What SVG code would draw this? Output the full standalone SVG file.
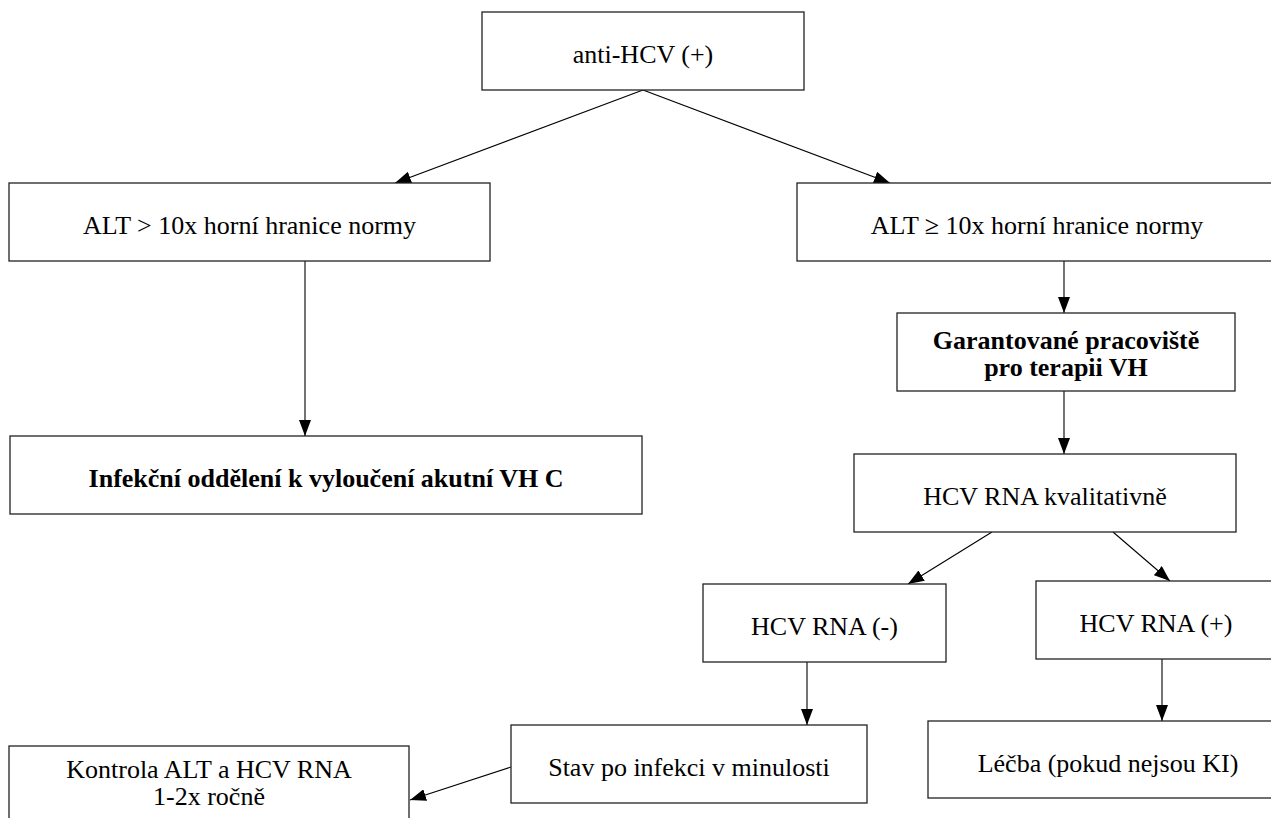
<svg xmlns="http://www.w3.org/2000/svg" width="1271" height="818" viewBox="0 0 1271 818">
<style>
.box{fill:#fff;stroke:#222;stroke-width:1.3}
.t{font-family:"Liberation Serif","Times New Roman",serif;font-size:26px;fill:#000;text-anchor:middle}
.b{font-weight:bold}
.c{stroke:#000;stroke-width:1.1;fill:none;marker-end:url(#ah)}
</style>
<defs>
<marker id="ah" markerUnits="userSpaceOnUse" markerWidth="16" markerHeight="12" refX="16" refY="6" orient="auto">
<path d="M0,0 L16,6 L0,12 z" fill="#000"/>
</marker>
</defs>
<rect width="1271" height="818" fill="#fff"/>
<g id="connectors">
<line class="c" x1="643" y1="90" x2="395" y2="183"/>
<line class="c" x1="643" y1="90" x2="890" y2="183"/>
<line class="c" x1="305" y1="261" x2="305" y2="436"/>
<line class="c" x1="1064" y1="261" x2="1064" y2="313"/>
<line class="c" x1="1064" y1="391" x2="1064" y2="454"/>
<line class="c" x1="992" y1="532" x2="908" y2="584"/>
<line class="c" x1="1113" y1="532" x2="1170" y2="581"/>
<line class="c" x1="807" y1="662" x2="807" y2="725"/>
<line class="c" x1="1162" y1="659" x2="1162" y2="721"/>
<line class="c" x1="511" y1="767" x2="410" y2="800"/>
</g>
<g id="n1"><rect class="box" x="482" y="12" width="322" height="78"/><text class="t" x="643" y="63">anti-HCV (+)</text></g>
<g id="n2"><rect class="box" x="9" y="183" width="481" height="78"/><text class="t" x="249.5" y="234">ALT &gt; 10x horní hranice normy</text></g>
<g id="n3"><rect class="box" x="797" y="183" width="481" height="78"/><text class="t" x="1037" y="234">ALT ≥ 10x horní hranice normy</text></g>
<g id="n4"><rect class="box" x="897" y="313" width="338" height="78"/><text class="t b" x="1066" y="349">Garantované pracoviště</text><text class="t b" x="1066" y="376">pro terapii VH</text></g>
<g id="n5"><rect class="box" x="10" y="436" width="632" height="78"/><text class="t b" x="326" y="487">Infekční oddělení k vyloučení akutní VH C</text></g>
<g id="n6"><rect class="box" x="854" y="454" width="382" height="78"/><text class="t" x="1045" y="505">HCV RNA kvalitativně</text></g>
<g id="n7"><rect class="box" x="703" y="584" width="243" height="78"/><text class="t" x="824.5" y="635">HCV RNA (-)</text></g>
<g id="n8"><rect class="box" x="1036" y="581" width="240" height="78"/><text class="t" x="1156" y="632">HCV RNA (+)</text></g>
<g id="n9"><rect class="box" x="511" y="725" width="356" height="78"/><text class="t" x="689" y="776">Stav po infekci v minulosti</text></g>
<g id="n10"><rect class="box" x="928" y="721" width="360" height="77"/><text class="t" x="1108" y="772">Léčba (pokud nejsou KI)</text></g>
<g id="n11"><rect class="box" x="9" y="746" width="400" height="100"/><text class="t" x="209" y="778">Kontrola ALT a HCV RNA</text><text class="t" x="209" y="805">1-2x ročně</text></g>
</svg>
